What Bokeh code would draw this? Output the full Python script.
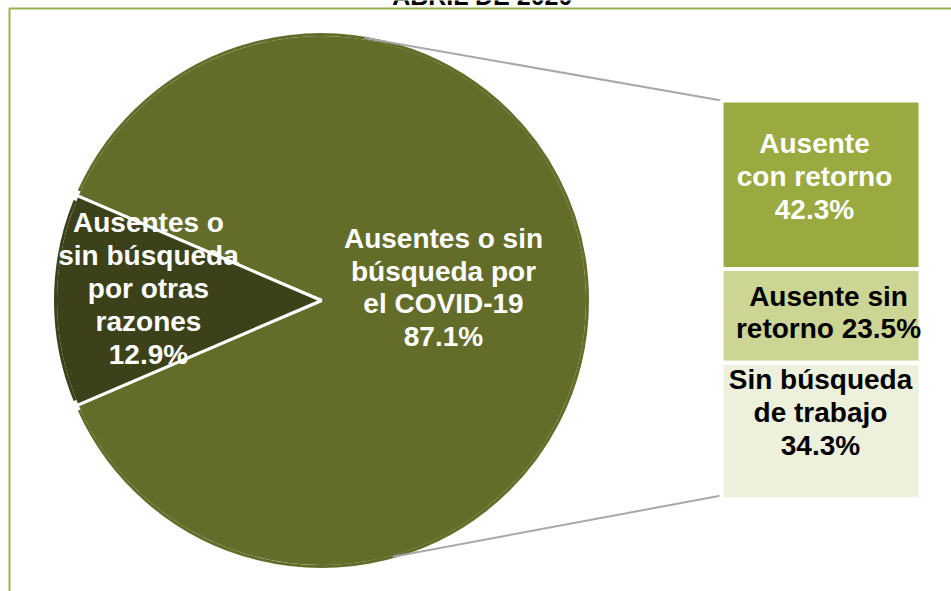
import math
from bokeh.plotting import figure
from bokeh.models import Range1d, ColumnDataSource
from bokeh.core.properties import value
from bokeh.embed import file_html
from bokeh.resources import INLINE

# ---- data ----
title_text = "ABRIL DE 2020"
pie_labels = ["Ausentes o sin\nbúsqueda por\nel COVID-19\n87.1%",
              "Ausentes o\nsin búsqueda\npor otras\nrazones\n12.9%"]
pie_values = [87.1, 12.9]
bar_labels = ["Ausente\ncon retorno\n42.3%",
              "Ausente sin\nretorno 23.5%",
              "Sin búsqueda\nde trabajo\n34.3%"]
bar_values = [42.3, 23.5, 34.3]

# ---- layout / style (screen pixels) ----
W, H = 951, 591
def sy(v):
    return H - v

cx, cy, r = 321, 300, 266
pie_colors = ["#646C2A", "#3C4119"]
bar_colors = ["#9AA940", "#CDD595", "#EDF0DB"]
bar_text_colors = ["white", "black", "black"]
bar_x0, bar_x1 = 721, 920
bar_top, bar_bot = 100, 499
FONT = value("Liberation Sans")
LH = 1.06

p = figure(width=W, height=H, output_backend="svg", toolbar_location=None,
           x_range=Range1d(0, W), y_range=Range1d(0, H), min_border=0)
p.axis.visible = False
p.grid.visible = False
p.outline_line_color = None
p.background_fill_color = "white"
p.border_fill_color = "white"

# frame border
p.line([9, 9, W + 5], [sy(H + 5), sy(8), sy(8)], line_color="#9BB050", line_width=2)

# title (cut off at top, as in the original)
p.text([482], [sy(-5)], text=[title_text], text_font=FONT, text_font_style="bold",
       text_font_size="25px", text_align="center", text_baseline="alphabetic",
       text_color="black")

# pie: small slice centred on the left
half = pie_values[1] / 100 * math.pi
small_start = math.pi - half
small_end = math.pi + half
p.wedge(x=[cx], y=[sy(cy)], radius=r, start_angle=small_end,
        end_angle=small_start + 2 * math.pi, direction="anticlock",
        fill_color=pie_colors[0], line_color="white", line_width=3)
p.wedge(x=[cx], y=[sy(cy)], radius=r, start_angle=small_start,
        end_angle=small_end, direction="anticlock",
        fill_color=pie_colors[1], line_color="white", line_width=3)
# outer rim in slice colour
p.arc(x=[cx], y=[sy(cy)], radius=r, start_angle=small_end + 0.02,
      end_angle=small_start + 2 * math.pi - 0.02, direction="anticlock",
      line_color=pie_colors[0], line_width=3)
p.arc(x=[cx], y=[sy(cy)], radius=r, start_angle=small_start + 0.02,
      end_angle=small_end - 0.02, direction="anticlock",
      line_color=pie_colors[1], line_width=3)

# connector lines
a_up = math.radians(80.7)
a_dn = math.radians(-74.4)
p.line([cx + r * math.cos(a_up), bar_x0], [sy(cy) + r * math.sin(a_up), sy(bar_top)],
       line_color="#A8A8A8", line_width=2)
p.line([cx + r * math.cos(a_dn), bar_x0], [sy(cy) + r * math.sin(a_dn), sy(bar_bot - 4)],
       line_color="#A8A8A8", line_width=2)

# stacked bar
total = sum(bar_values)
span = bar_bot - bar_top
tops, bots = [], []
acc = 0
for v in bar_values:
    t = bar_top + acc / total * span
    acc += v
    b = bar_top + acc / total * span
    tops.append(sy(t)); bots.append(sy(b))
src = ColumnDataSource(dict(top=tops, bottom=bots, color=bar_colors))
p.quad(left=bar_x0, right=bar_x1, top="top", bottom="bottom", fill_color="color",
       line_color="white", line_width=4, source=src)

# pie labels
p.text([443, 148], [sy(287), sy(288)], text=pie_labels, text_font=FONT,
       text_font_style="bold", text_font_size="28px", text_align="center",
       text_baseline="middle", text_color="white", text_line_height=LH)

# bar labels
lx = [814, 828, 820]
ly = [sy(176), sy(312), sy(412)]
p.text(lx, ly, text=bar_labels, text_font=FONT, text_font_style="bold",
       text_font_size="28px", text_align="center", text_baseline="middle",
       text_color=bar_text_colors, text_line_height=LH)

open("out.html", "w").write(file_html(p, INLINE))
